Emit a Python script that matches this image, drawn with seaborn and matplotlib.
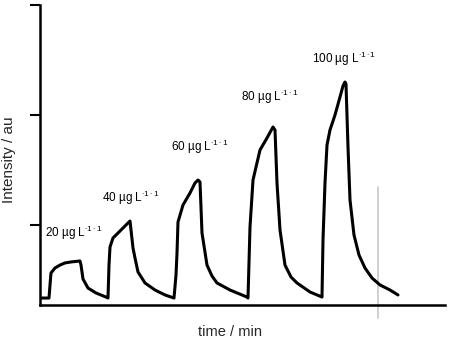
import matplotlib
matplotlib.use("Agg")
import matplotlib.pyplot as plt
import seaborn as sns
import pandas as pd

# Trace (time in min, intensity in a.u.)
time_min = [0.2, 0.9, 1.0, 1.1, 1.5, 2.0, 2.5, 3.1, 4.0, 4.1, 4.3, 4.8, 5.6, 6.6, 6.8,
            6.9, 7.0, 7.3, 7.8, 8.6, 9.0, 9.1, 9.3, 9.5, 9.8, 10.5, 11.5, 12.5, 13.4,
            13.6, 13.7, 13.8, 14.3, 15.0, 15.5, 15.8, 16.0, 16.2, 16.7, 17.2, 17.7, 19.0, 20.7, 20.8,
            21.0, 21.3, 22.0, 22.7, 23.3, 23.5, 23.7, 24.0, 24.5, 25.1, 25.7, 27.0, 28.2,
            28.3, 28.5, 28.7, 29.0, 29.5, 30.0, 30.3, 30.5, 30.6, 30.8, 31.0, 31.4, 31.9,
            32.5, 33.2, 34.0, 35.0, 35.8]
intensity = [0.336, 0.336, 0.455, 0.564, 0.609, 0.636, 0.655, 0.664, 0.673, 0.636, 0.509, 0.427, 0.382, 0.345, 0.336,
             0.636, 0.800, 0.882, 0.927, 1.000, 1.036, 0.955, 0.791, 0.700, 0.573, 0.473, 0.409, 0.364, 0.336,
             0.545, 0.745, 1.027, 1.182, 1.291, 1.382, 1.409, 1.391, 0.927, 0.636, 0.536, 0.473, 0.409, 0.345, 0.336,
             0.982, 1.409, 1.682, 1.791, 1.891, 1.864, 1.382, 0.955, 0.636, 0.527, 0.473, 0.391, 0.345,
             0.864, 1.382, 1.727, 1.864, 2.000, 2.164, 2.264, 2.300, 2.282, 1.709, 1.227, 0.909, 0.727,
             0.609, 0.518, 0.455, 0.409, 0.364]

conc_labels = ["20", "40", "60", "80", "100"]
label_time = [0.5, 6.2, 13.1, 20.1, 27.2]
label_int = [0.93, 1.25, 1.71, 2.16, 2.51]
marker_time = 33.8
marker_range = [0.155, 1.345]
ytick_vals = [1, 2, 3]

sns.set_style("ticks")
plt.rcParams["font.family"] = ["Liberation Sans", "DejaVu Sans"]
plt.rcParams["mathtext.fontset"] = "custom"
plt.rcParams["mathtext.rm"] = "Liberation Sans"
plt.rcParams["mathtext.it"] = "Liberation Sans"

fig = plt.figure(figsize=(4.5, 3.38), dpi=100)
ax = fig.add_axes([40 / 450, 33 / 338, 405 / 450, 300 / 338])

df = pd.DataFrame({"time": time_min, "intensity": intensity})
sns.lineplot(data=df, x="time", y="intensity", ax=ax, color="black", lw=2.2,
             sort=False, estimator=None)

ax.plot([marker_time, marker_time], marker_range, color="#c8c8c8", lw=1.2,
        clip_on=False, zorder=1)

for c, t, y in zip(conc_labels, label_time, label_int):
    ax.text(t, y, c + r" µg L$^{\cdot 1\cdot 1}$", fontsize=8.5, ha="left",
            va="center", color="black")

ax.set_xlim(0, 40.5)
ax.set_ylim(1 - 80 / 110, 3)
ax.set_yticks(ytick_vals)
ax.set_yticklabels([])
ax.set_xticks([])
ax.tick_params(axis="y", length=7, width=1.5, direction="out", color="black")
for s in ["top", "right"]:
    ax.spines[s].set_visible(False)
for s in ["left", "bottom"]:
    ax.spines[s].set_linewidth(1.8)
    ax.spines[s].set_color("black")

ax.set_xlabel("time / min", fontsize=10.5)
ax.set_ylabel("Intensity / au", fontsize=11)
ax.xaxis.set_label_coords((230 - 40) / 405, -0.066)
ax.yaxis.set_label_coords(-0.06, 0.483)

fig.savefig("out.png", dpi=100)
